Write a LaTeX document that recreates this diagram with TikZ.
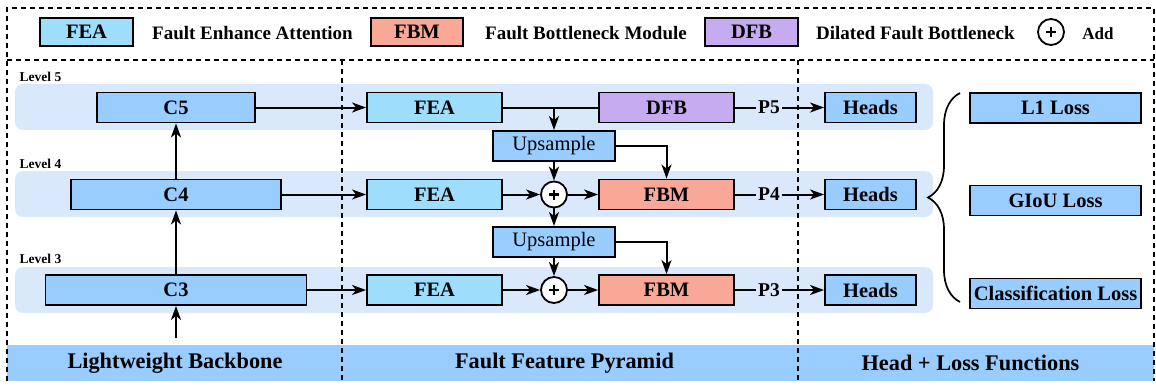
\documentclass[tikz,border=0pt]{standalone}
\usepackage{fontspec}
\setmainfont{Liberation Serif}
\usetikzlibrary{arrows.meta,decorations.pathreplacing}

\definecolor{cblue}{HTML}{99CCFF}
\definecolor{feablue}{HTML}{9EDDFC}
\definecolor{fbmred}{HTML}{F9A796}
\definecolor{dfbviolet}{HTML}{C6ABF1}
\definecolor{lvlband}{HTML}{DAE8FC}

\begin{document}
\begin{tikzpicture}[x=1pt, y=-1pt,
  blk/.style={draw, line width=1.9pt, minimum height=30, inner sep=0pt, font=\fontsize{20.5}{22}\selectfont\bfseries},
  cblk/.style={blk, fill=cblue},
  feablk/.style={blk, fill=feablue, minimum width=135},
  fbmblk/.style={blk, fill=fbmred, minimum width=135},
  dfbblk/.style={blk, fill=dfbviolet, minimum width=135},
  upblk/.style={blk, fill=cblue, minimum width=122, font=\fontsize{20.5}{22}\selectfont},
  headblk/.style={blk, fill=cblue, minimum width=91},
  lossblk/.style={blk, fill=cblue, minimum width=171},
  legtxt/.style={anchor=base west, inner sep=0pt, font=\fontsize{19}{21}\selectfont\bfseries},
  lvltxt/.style={anchor=base west, inner sep=0pt, font=\fontsize{13.5}{15}\selectfont\bfseries},
  ptxt/.style={inner sep=2pt, font=\fontsize{19.5}{21}\selectfont\bfseries},
  bandtxt/.style={inner sep=0pt, font=\fontsize{22.3}{24}\selectfont\bfseries},
  addop/.style={circle, draw, fill=white, line width=1.8pt, minimum size=26, inner sep=0pt,
    path picture={\draw[line width=2.8pt]
      ([xshift=-5pt]path picture bounding box.center) -- ([xshift=5pt]path picture bounding box.center)
      ([yshift=-5pt]path picture bounding box.center) -- ([yshift=5pt]path picture bounding box.center);}},
  sep/.style={dash pattern=on 5pt off 4pt, line width=1.6pt},
  conn/.style={line width=2pt},
  arr/.style={conn, -{Stealth[length=14pt, width=10pt, inset=4pt]}}
]
\useasboundingbox (0,0) rectangle (1156,386);

\fill[lvlband, rounded corners=8] (15,84) rectangle (933,130);
\fill[lvlband, rounded corners=8] (15,171) rectangle (933,217);
\fill[lvlband, rounded corners=8] (15,267) rectangle (933,313);
\fill[cblue] (7,345) rectangle (1154,381);

\draw[sep] (7,381) -- (7,8) -- (1154,8) -- (1154,381);
\draw[sep] (7,60) -- (1154,60);
\draw[sep] (342,60) -- (342,381);
\draw[sep] (798,60) -- (798,381);

\node[feablk, minimum width=93, minimum height=28] (lgfea) at (86.5,32) {FEA};
\node[legtxt] (lgfeatxt) at (152,39) {Fault Enhance Attention};
\node[fbmblk, minimum width=92, minimum height=28] (lgfbm) at (417,32) {FBM};
\node[legtxt] (lgfbmtxt) at (485,39) {Fault Bottleneck Module};
\node[dfbblk, minimum width=93, minimum height=28] (lgdfb) at (751.5,32) {DFB};
\node[legtxt] (lgdfbtxt) at (816,39) {Dilated Fault Bottleneck};
\node[addop] (lgadd) at (1051,32) {};
\node[legtxt, anchor=base, font=\fontsize{17}{19}\selectfont\bfseries] (lgaddtxt) at (1098,39) {Add};

\node[lvltxt] (lvl5) at (19.5,81) {Level 5};
\node[lvltxt] (lvl4) at (19.5,168) {Level 4};
\node[lvltxt] (lvl3) at (19.5,263) {Level 3};

\node[cblk, minimum width=158] (c5) at (176,107.5) {C5};
\node[cblk, minimum width=210] (c4) at (176,194.5) {C4};
\node[cblk, minimum width=261] (c3) at (176,290) {C3};
\coordinate (inp) at (176,338);

\node[feablk] (fea5) at (434.5,107.5) {FEA};
\node[feablk] (fea4) at (434.5,194.5) {FEA};
\node[feablk] (fea3) at (434.5,290) {FEA};

\node[upblk] (up5) at (554,146) {Upsample};
\node[upblk] (up4) at (554,242) {Upsample};
\node[addop] (plus4) at (554,194.5) {};
\node[addop] (plus3) at (554,290) {};

\node[dfbblk] (dfb) at (666.5,107.5) {DFB};
\node[fbmblk] (fbm4) at (666.5,194.5) {FBM};
\node[fbmblk] (fbm3) at (666.5,290) {FBM};

\node[ptxt] (p5) at (769,107.5) {P5};
\node[ptxt] (p4) at (769,194.5) {P4};
\node[ptxt] (p3) at (769,290) {P3};

\node[headblk] (heads5) at (870.5,107.5) {Heads};
\node[headblk] (heads4) at (870.5,194.5) {Heads};
\node[headblk] (heads3) at (870.5,290) {Heads};

\node[lossblk] (l1) at (1055.5,108) {L1 Loss};
\node[lossblk] (giou) at (1055.5,200.5) {GIoU Loss};
\node[lossblk] (cls) at (1055.5,293.5) {Classification Loss};

\node[bandtxt] (bbtxt) at (175,363) {Lightweight Backbone};
\node[bandtxt] (fptxt) at (564.5,363) {Fault Feature Pyramid};
\node[bandtxt] (hltxt) at (970.5,363) {Head + Loss Functions};

\draw[arr] (inp) -- (c3);
\draw[arr] (c3) -- (c4);
\draw[arr] (c4) -- (c5);

\draw[arr] (c5) -- (fea5);
\draw[arr] (c4) -- (fea4);
\draw[arr] (c3) -- (fea3);

\draw[conn] (fea5) -- (dfb);
\draw[arr] (up5 |- fea5) -- (up5);
\draw[arr] (up5) -- (plus4);
\draw[arr] (up5.east) -| (fbm4.north);
\draw[arr] (fea4) -- (plus4);
\draw[arr] (plus4) -- (fbm4);
\draw[arr] (plus4) -- (up4);
\draw[arr] (up4) -- (plus3);
\draw[arr] (up4.east) -| (fbm3.north);
\draw[arr] (fea3) -- (plus3);
\draw[arr] (plus3) -- (fbm3);

\draw[conn] (dfb) -- (p5);
\draw[conn] (fbm4) -- (p4);
\draw[conn] (fbm3) -- (p3);
\draw[arr] (p5) -- (heads5);
\draw[arr] (p4) -- (heads4);
\draw[arr] (p3) -- (heads3);

\draw[line width=1.7pt, decorate, decoration={brace, amplitude=32pt}] (960,302) -- (960,93);

\end{tikzpicture}
\end{document}
